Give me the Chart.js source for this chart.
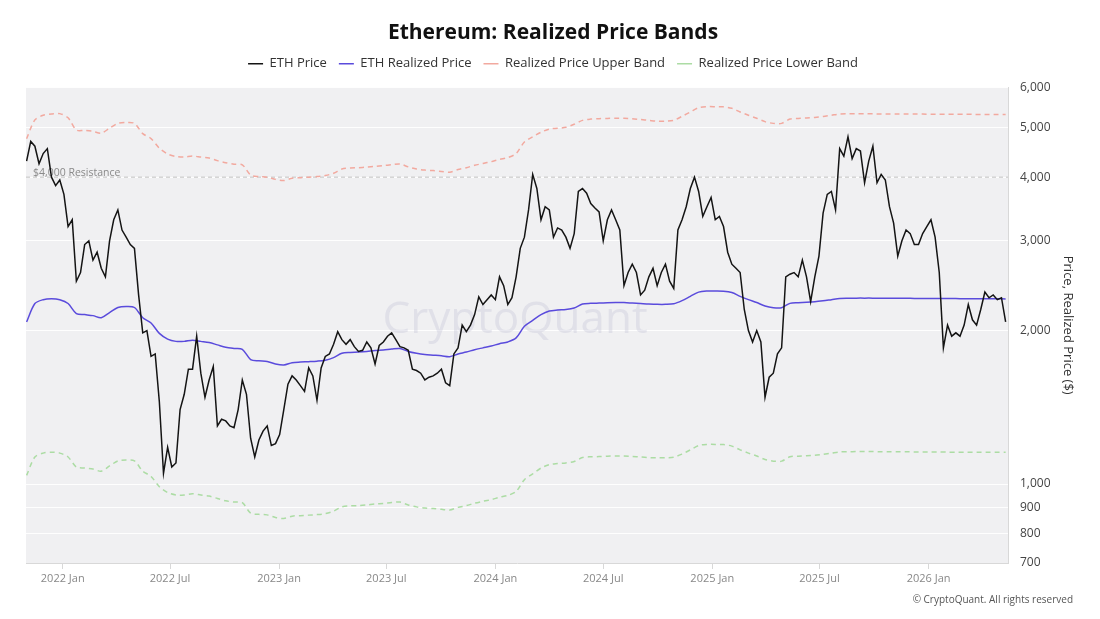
<!DOCTYPE html>
<html>
<head>
<meta charset="utf-8">
<script src="https://cdn.jsdelivr.net/npm/chart.js@4.4.1/dist/chart.umd.min.js"></script>
<style>
  html, body { margin: 0; padding: 0; background: #fff; }
  #wrap { width: 1100px; height: 619px; position: relative; }
</style>
</head>
<body>
<div id="wrap"><canvas id="myChart" width="1100" height="619"></canvas></div>
<script>
// ETH price, one value per week starting 2021-11-01
const priceStart = '2021-11-01';
const ethPrice = [
  4300, 4700, 4600, 4250, 4450, 4550, 4000, 3850, 3950, 3700,
  3200, 3300, 2500, 2600, 2950, 3000, 2750, 2850, 2650, 2550,
  3000, 3300, 3450, 3150, 3050, 2950, 2900, 2350, 1980, 2000,
  1780, 1800, 1450, 1050, 1180, 1080, 1100, 1400, 1500, 1680,
  1680, 1950, 1650, 1480, 1600, 1700, 1300, 1340, 1330, 1300,
  1290, 1400, 1600, 1500, 1230, 1130, 1220, 1270, 1300, 1190,
  1200, 1250, 1400, 1570, 1630, 1600, 1560, 1520, 1690, 1630,
  1460, 1690, 1780, 1800, 1880, 1990, 1920, 1880, 1920, 1860,
  1820, 1830, 1900, 1850, 1720, 1870, 1900, 1950, 1980, 1920,
  1860, 1850, 1830, 1680, 1670, 1650, 1600, 1620, 1630, 1650,
  1680, 1580, 1560, 1800, 1850, 2050, 1990, 2050, 2150, 2330,
  2250, 2300, 2350, 2300, 2550, 2450, 2250, 2320, 2550, 2900,
  3050, 3450, 4050, 3800, 3300, 3500, 3450, 3050, 3180, 3150,
  3050, 2900, 3100, 3750, 3800, 3720, 3550, 3480, 3420, 3000,
  3300, 3450, 3300, 3150, 2450, 2600, 2700, 2600, 2350, 2400,
  2550, 2650, 2450, 2600, 2700, 2500, 2420, 3150, 3300, 3500,
  3800, 4000, 3750, 3350, 3500, 3650, 3300, 3350, 3200, 2850,
  2700, 2650, 2600, 2200, 2000, 1900, 2000, 1900, 1480, 1620,
  1650, 1800, 1850, 2550, 2580, 2600, 2550, 2750, 2550, 2280,
  2550, 2800, 3400, 3700, 3750, 3450, 4550, 4400, 4800, 4350,
  4550, 4500, 3900, 4300, 4600, 3900, 4050, 3950, 3500, 3250,
  2800, 3000, 3150, 3100, 2950, 2950, 3100, 3200, 3300, 3050,
  2600, 1850, 2050, 1950, 1980, 1950, 2050, 2250, 2100, 2050,
  2200, 2380, 2320, 2350, 2300, 2320, 2080
];

// realized price and bands, one value every two weeks starting 2021-11-01
const bandStart = '2021-11-01';
const realizedPrice = [
  2080, 2260, 2300, 2310, 2300, 2260, 2160, 2150, 2140, 2120,
  2170, 2220, 2230, 2220, 2120, 2070, 1975, 1925, 1905, 1905,
  1915, 1905, 1895, 1875, 1855, 1845, 1838, 1755, 1745, 1740,
  1720, 1712, 1730, 1735, 1738, 1742, 1750, 1770, 1805, 1812,
  1815, 1820, 1828, 1832, 1840, 1845, 1820, 1805, 1795, 1790,
  1785, 1778, 1800, 1815, 1835, 1850, 1865, 1885, 1900, 1935,
  2040, 2095, 2150, 2185, 2195, 2200, 2215, 2255, 2262, 2265,
  2268, 2270, 2270, 2265, 2260, 2255, 2252, 2252, 2258, 2290,
  2335, 2380, 2392, 2392, 2390, 2375, 2335, 2300, 2270, 2235,
  2218, 2218, 2262, 2268, 2272, 2278, 2288, 2300, 2312, 2315,
  2316, 2316, 2316, 2315, 2315, 2314, 2314, 2313, 2313, 2312,
  2312, 2311, 2311, 2310, 2310, 2310, 2309, 2309, 2308
];
const upperBand = [
  4760, 5180, 5290, 5320, 5330, 5230, 4950, 4940, 4920, 4880,
  4990, 5100, 5120, 5100, 4870, 4760, 4560, 4440, 4390, 4380,
  4400, 4380, 4360, 4310, 4270, 4240, 4230, 4040, 4010, 4000,
  3960, 3940, 3980, 3990, 4000, 4010, 4030, 4070, 4150, 4170,
  4175, 4185, 4200, 4215, 4230, 4245, 4190, 4150, 4130, 4120,
  4105, 4090, 4140, 4175, 4220, 4255, 4290, 4335, 4370, 4450,
  4690, 4800, 4900, 4970, 4990, 5010, 5080, 5170, 5200, 5210,
  5215, 5220, 5220, 5210, 5190, 5170, 5150, 5150, 5170, 5265,
  5370, 5475, 5500, 5500, 5495, 5460, 5370, 5290, 5220, 5140,
  5100, 5100, 5200, 5215, 5225, 5240, 5260, 5290, 5320, 5325,
  5325, 5325, 5324, 5323, 5322, 5321, 5320, 5319, 5318, 5317,
  5316, 5315, 5314, 5313, 5312, 5311, 5310, 5310, 5310
];
const lowerBand = [
  1040, 1130, 1150, 1155, 1150, 1130, 1080, 1075, 1070, 1060,
  1085, 1110, 1115, 1110, 1060, 1035, 988, 962, 952, 952,
  957, 952, 947, 937, 927, 922, 919, 877, 872, 870,
  860, 856, 865, 867, 869, 871, 875, 885, 902, 906,
  907, 910, 914, 916, 920, 922, 910, 902, 897, 895,
  892, 889, 900, 907, 917, 925, 932, 942, 950, 967,
  1020, 1047, 1075, 1092, 1097, 1100, 1107, 1127, 1131, 1132,
  1134, 1135, 1135, 1132, 1130, 1127, 1126, 1126, 1129, 1145,
  1167, 1190, 1196, 1196, 1195, 1187, 1167, 1150, 1135, 1117,
  1109, 1109, 1131, 1134, 1136, 1139, 1144, 1150, 1156, 1157,
  1158, 1158, 1158, 1157, 1157, 1157, 1157, 1156, 1156, 1156,
  1156, 1155, 1155, 1155, 1155, 1154, 1154, 1154, 1154
];

const xStart = '2021-10-31';
const xEnd = '2026-05-15';
const xTickDates = ['2022-01-01', '2022-07-01', '2023-01-01', '2023-07-01', '2024-01-01',
                    '2024-07-01', '2025-01-01', '2025-07-01', '2026-01-01'];
const yTicks = [700, 800, 900, 1000, 2000, 3000, 4000, 5000, 6000];
const resistanceLevel = 4000;
const resistanceLabel = '$4,000 Resistance';

function toDay(s) {
    return Date.parse(s + 'T00:00:00Z') / 86400000;
}

function dayLabel(v) {
    let d = new Date(v * 86400000);
    let m = d.getUTCMonth() == 0 ? 'Jan' : 'Jul';
    return d.getUTCFullYear() + ' ' + m;
}

function series(start, step, values) {
    let d0 = toDay(start);
    return values.map(function(v, i) { return { x: d0 + step * i, y: v }; });
}

// grey plot background, watermark, resistance line, footer
const decorations = {
    id: 'decorations',
    beforeDraw(chart) {
        let ctx = chart.ctx;
        let a = chart.chartArea;
        ctx.save();
        ctx.fillStyle = '#f0f0f2';
        ctx.fillRect(a.left, a.top, a.right - a.left, a.bottom - a.top);
        ctx.restore();
    },
    beforeDatasetsDraw(chart) {
        let ctx = chart.ctx;
        let a = chart.chartArea;
        ctx.save();
        // watermark
        ctx.fillStyle = 'rgba(190,190,210,0.32)';
        ctx.font = '500 44px "Open Sans"';
        ctx.textAlign = 'center';
        ctx.textBaseline = 'middle';
        ctx.fillText('CryptoQuant', 515, 320);
        // resistance line
        let y = chart.scales.y.getPixelForValue(resistanceLevel);
        ctx.strokeStyle = '#c0c0c0';
        ctx.lineWidth = 1;
        ctx.setLineDash([4, 3]);
        ctx.beginPath();
        ctx.moveTo(a.left, y);
        ctx.lineTo(a.right, y);
        ctx.stroke();
        ctx.setLineDash([]);
        ctx.fillStyle = '#8a8a8a';
        ctx.font = '10.5px "Open Sans"';
        ctx.textAlign = 'left';
        ctx.textBaseline = 'bottom';
        ctx.fillText(resistanceLabel, a.left + 7, y + 1);
        ctx.restore();
    },
    afterDraw(chart) {
        let ctx = chart.ctx;
        ctx.save();
        ctx.fillStyle = '#555';
        ctx.font = '10px "Open Sans"';
        ctx.textAlign = 'right';
        ctx.textBaseline = 'middle';
        ctx.fillText('\u00A9 CryptoQuant. All rights reserved', 1073, 600);
        ctx.restore();
    }
};

let ctx = document.getElementById('myChart');

let myChart = new Chart(ctx, {
    type: 'line',
    data: {
        datasets: [{
            label: 'ETH Price',
            data: series(priceStart, 7, ethPrice),
            borderColor: '#141414',
            borderWidth: 1.5,
            pointRadius: 0,
            tension: 0
        }, {
            label: 'ETH Realized Price',
            data: series(bandStart, 14, realizedPrice),
            borderColor: '#5a4bdc',
            borderWidth: 1.5,
            pointRadius: 0,
            tension: 0.3
        }, {
            label: 'Realized Price Upper Band',
            data: series(bandStart, 14, upperBand),
            borderColor: '#f2a99f',
            borderWidth: 1.5,
            borderDash: [5, 4],
            pointRadius: 0,
            tension: 0.3
        }, {
            label: 'Realized Price Lower Band',
            data: series(bandStart, 14, lowerBand),
            borderColor: '#acdca4',
            borderWidth: 1.5,
            borderDash: [5, 4],
            pointRadius: 0,
            tension: 0.3
        }]
    },
    options: {
        responsive: false,
        animation: false,
        layout: { padding: { left: 26, right: 20, top: 0, bottom: 0 } },
        plugins: {
            title: {
                display: true,
                text: 'Ethereum: Realized Price Bands',
                color: '#111',
                font: { family: 'Open Sans', size: 21, weight: 'bold' },
                padding: { top: 20, bottom: 0 }
            },
            // empty spacer between the legend and the plot
            subtitle: {
                display: true,
                text: ' ',
                weight: 500,
                font: { size: 1 },
                padding: { top: 0, bottom: 6 }
            },
            legend: {
                labels: {
                    usePointStyle: true,
                    pointStyle: 'line',
                    pointStyleWidth: 15,
                    color: '#333',
                    font: { family: 'Open Sans', size: 13 },
                    padding: 12
                }
            },
            tooltip: { enabled: false }
        },
        scales: {
            x: {
                type: 'linear',
                min: toDay(xStart),
                max: toDay(xEnd),
                afterBuildTicks: function(s) {
                    s.ticks = xTickDates.map(function(d) { return { value: toDay(d) }; });
                },
                afterFit: function(s) { s.height = 56; },
                ticks: {
                    callback: function(v) { return dayLabel(v); },
                    color: '#888',
                    font: { family: 'Open Sans', size: 11 },
                    padding: 3,
                    maxRotation: 0,
                    autoSkip: false
                },
                grid: { drawOnChartArea: false, tickLength: 6, color: '#d8d8d8' },
                border: { color: '#d8d8d8' }
            },
            y: {
                type: 'logarithmic',
                position: 'right',
                min: 700,
                max: 6000,
                afterBuildTicks: function(s) {
                    s.ticks = yTicks.map(function(v) { return { value: v }; });
                },
                afterFit: function(s) { s.width = 72; },
                ticks: {
                    callback: function(v) { return v.toLocaleString('en-US'); },
                    color: '#444',
                    font: { family: 'Open Sans', size: 12 },
                    padding: 12
                },
                grid: { color: 'rgba(255,255,255,0.9)', drawTicks: false },
                border: { color: '#d8d8d8' },
                title: {
                    display: true,
                    text: 'Price, Realized Price ($)',
                    color: '#333',
                    font: { family: 'Open Sans', size: 13 }
                }
            }
        }
    },
    plugins: [decorations]
});
</script>
</body>
</html>
